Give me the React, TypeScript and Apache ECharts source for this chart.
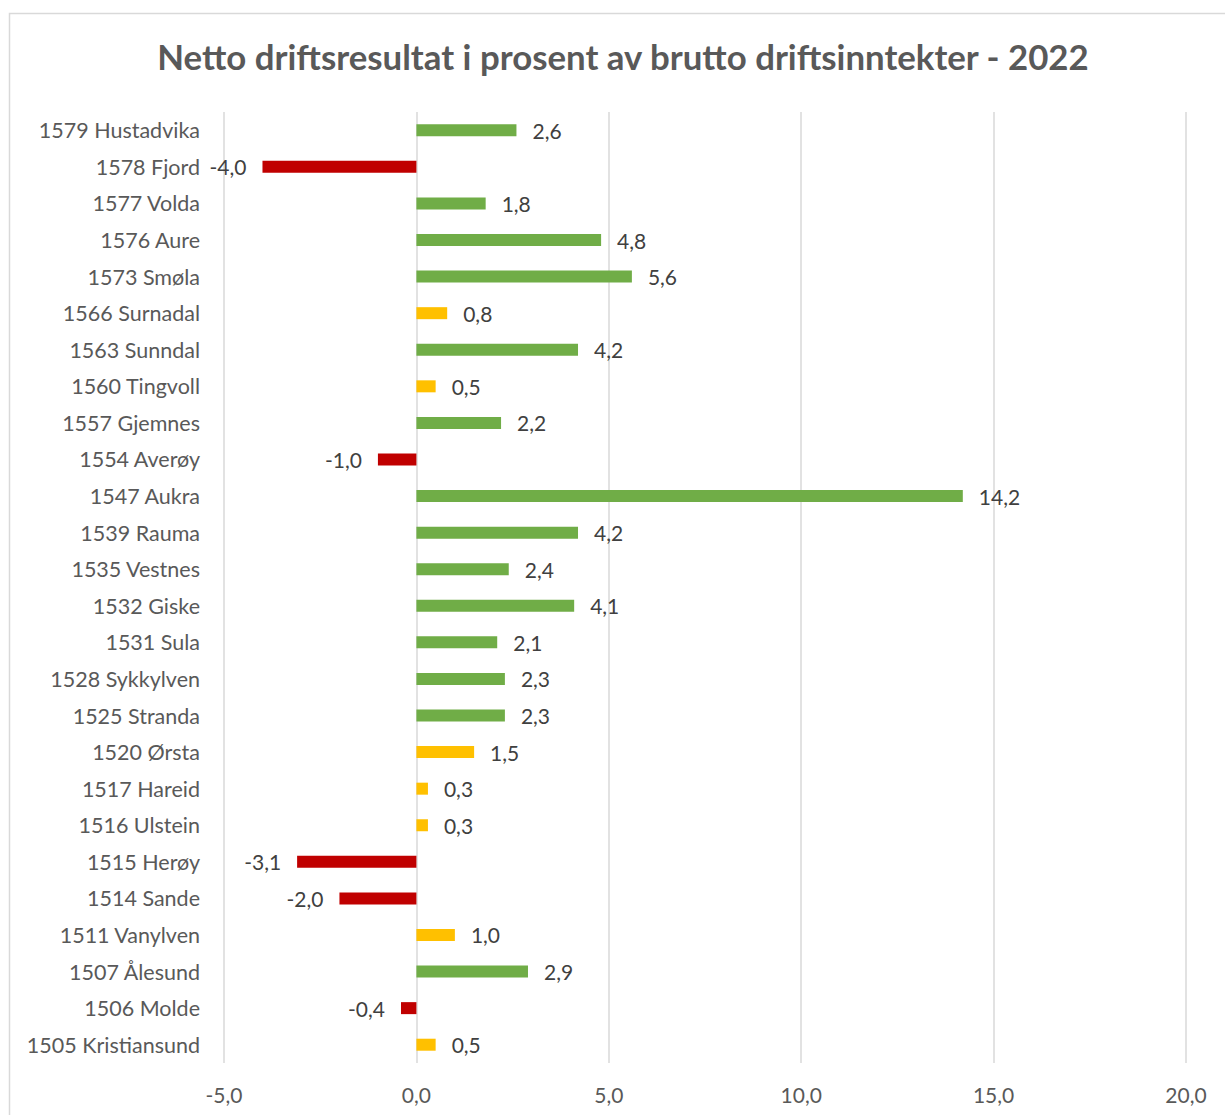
import React, { useEffect, useRef } from "react";
import * as echarts from "echarts";

const titleText = "Netto driftsresultat i prosent av brutto driftsinntekter - 2022";

const categories = [
  "1579 Hustadvika",
  "1578 Fjord",
  "1577 Volda",
  "1576 Aure",
  "1573 Smøla",
  "1566 Surnadal",
  "1563 Sunndal",
  "1560 Tingvoll",
  "1557 Gjemnes",
  "1554 Averøy",
  "1547 Aukra",
  "1539 Rauma",
  "1535 Vestnes",
  "1532 Giske",
  "1531 Sula",
  "1528 Sykkylven",
  "1525 Stranda",
  "1520 Ørsta",
  "1517 Hareid",
  "1516 Ulstein",
  "1515 Herøy",
  "1514 Sande",
  "1511 Vanylven",
  "1507 Ålesund",
  "1506 Molde",
  "1505 Kristiansund",
];

const values = [
  2.6, -4.0, 1.8, 4.8, 5.6, 0.8, 4.2, 0.5, 2.2, -1.0, 14.2, 4.2, 2.4, 4.1, 2.1,
  2.3, 2.3, 1.5, 0.3, 0.3, -3.1, -2.0, 1.0, 2.9, -0.4, 0.5,
];

// colour group per municipality: "g" = green, "y" = yellow, "r" = red
const groups = [
  "g", "r", "g", "g", "g", "y", "g", "y", "g", "r", "g", "g", "g", "g", "g",
  "g", "g", "y", "y", "y", "r", "r", "y", "g", "r", "y",
];

const axisMin = -5;
const axisMax = 20;
const axisInterval = 5;

const COLORS: Record<string, string> = { g: "#70AD47", y: "#FFC000", r: "#C00000" };
const FONT = "Lato, 'Open Sans', sans-serif";
const fmt = (v: number) => v.toFixed(1).replace(".", ",");

export default function App() {
  const ref = useRef<HTMLDivElement>(null);
  useEffect(() => {
    if (!ref.current) return;
    const chart = echarts.init(ref.current, undefined, { renderer: "svg" });
    chart.setOption({
      animation: false,
      backgroundColor: "#ffffff",
      title: {
        text: titleText,
        left: 618,
        textAlign: "center",
        top: 33.5,
        textStyle: {
          fontFamily: FONT,
          fontSize: 34.8,
          fontWeight: "bold",
          color: "#595959",
        },
      },
      graphic: [
        {
          type: "rect",
          shape: { x: 9.5, y: 13.5, width: 1240, height: 1140 },
          style: { fill: "none", stroke: "#D9D9D9", lineWidth: 1.5 },
          silent: true,
          z: -1,
        },
      ],
      grid: { left: 224, right: 39, top: 112, bottom: 52 },
      xAxis: {
        type: "value",
        min: axisMin,
        max: axisMax,
        interval: axisInterval,
        axisLine: { show: false },
        axisTick: { show: false },
        splitLine: { show: true, lineStyle: { color: "#D9D9D9", width: 1.5 } },
        axisLabel: {
          formatter: (v: number) => fmt(v),
          fontFamily: FONT,
          fontSize: 21,
          color: "#595959",
          margin: 21,
        },
      },
      yAxis: {
        type: "category",
        data: categories,
        inverse: true,
        axisLine: { show: false },
        axisTick: { show: false },
        splitLine: { show: false },
        axisLabel: {
          fontFamily: FONT,
          fontSize: 21.5,
          color: "#595959",
          margin: 24,
        },
      },
      series: [
        {
          type: "bar",
          barWidth: 12,
          data: values.map((v, i) => ({
            value: v,
            itemStyle: { color: COLORS[groups[i]] },
            label: { position: v < 0 ? "left" : "right" },
          })),
          label: {
            show: true,
            distance: 16,
            formatter: (p: any) => fmt(p.value),
            fontFamily: FONT,
            fontSize: 21,
            color: "#404040",
          },
        },
      ],
    });
    return () => chart.dispose();
  }, []);
  return (
    <div
      ref={ref}
      style={{ position: "fixed", left: 0, top: 0, width: 1225, height: 1115 }}
    />
  );
}
